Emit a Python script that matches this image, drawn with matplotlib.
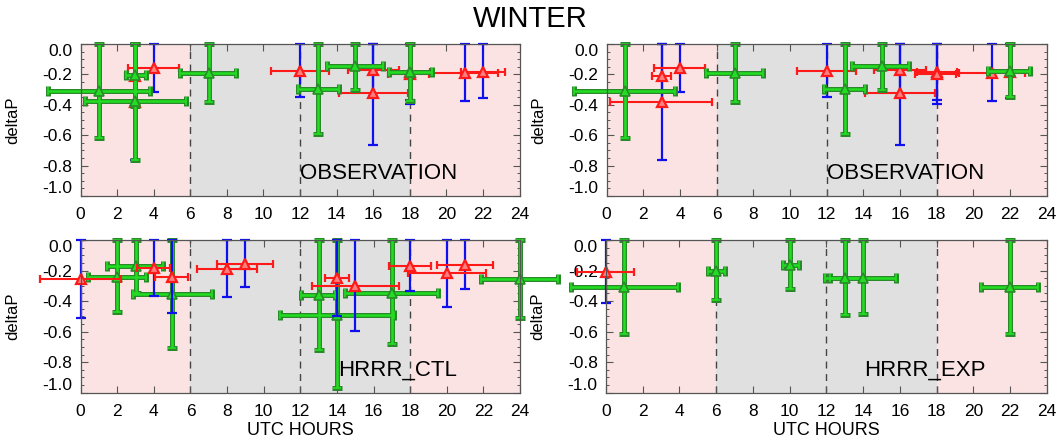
import matplotlib
matplotlib.use("Agg")
import matplotlib.pyplot as plt
from matplotlib.ticker import MultipleLocator
import numpy as np

plt.rcParams["font.family"] = ["Liberation Sans", "DejaVu Sans"]

# ---- OBSERVATION: red points (x spread) with blue y spread ----
obs_red_x = [3, 3, 4, 12, 16, 16, 18, 18, 21, 22]
obs_red_y = [-0.21, -0.38, -0.155, -0.178, -0.17, -0.325, -0.185, -0.195, -0.193, -0.186]
obs_red_xlo = [2.45, 0.2, 2.6, 10.4, 14.6, 14.1, 16.95, 16.8, 19.2, 20.8]
obs_red_xhi = [3.5, 5.75, 5.38, 13.6, 17.4, 17.92, 19.1, 19.05, 22.8, 23.2]
obs_red_ylo = [-0.41, -0.76, -0.318, -0.35, -0.34, -0.664, -0.37, -0.395, -0.375, -0.353]

# OBSERVATION green events, left column
obs_ctl_x = [1, 3, 3, 7, 13, 15, 18]
obs_ctl_y = [-0.307, -0.205, -0.376, -0.189, -0.298, -0.145, -0.186]
obs_ctl_xlo = [-1.78, 2.46, 0.22, 5.44, 11.88, 13.45, 16.88]
obs_ctl_xhi = [3.8, 3.55, 5.77, 8.5, 14.12, 16.55, 19.2]
obs_ctl_ylo = [-0.617, -0.41, -0.76, -0.379, -0.595, -0.303, -0.373]

# OBSERVATION green events, right column
obs_exp_x = [1, 7, 13, 15, 22]
obs_exp_y = [-0.307, -0.189, -0.298, -0.145, -0.175]
obs_exp_xlo = [-1.8, 5.42, 11.85, 13.4, 20.8]
obs_exp_xhi = [3.75, 8.5, 14.1, 16.5, 23.1]
obs_exp_ylo = [-0.617, -0.379, -0.594, -0.303, -0.35]

# ---- HRRR_CTL ----
ctl_red_x = [0, 4, 5, 8, 9, 14, 15, 18, 20, 21]
ctl_red_y = [-0.258, -0.183, -0.242, -0.188, -0.157, -0.252, -0.30, -0.17, -0.218, -0.164]
ctl_red_xlo = [-2.2, 3.1, 4.06, 6.34, 7.45, 13.35, 12.62, 16.86, 17.9, 19.49]
ctl_red_xhi = [2.2, 4.88, 5.88, 9.62, 10.52, 14.66, 17.4, 19.14, 22.15, 22.55]
ctl_red_ylo = [-0.51, -0.367, -0.48, -0.373, -0.308, -0.5, -0.594, -0.334, -0.437, -0.323]

ctl_grn_x = [2, 3, 5, 13, 14, 17, 24]
ctl_grn_y = [-0.24, -0.17, -0.356, -0.362, -0.491, -0.345, -0.258]
ctl_grn_xlo = [0.42, 1.42, 2.84, 12.02, 10.89, 14.44, 21.87]
ctl_grn_xhi = [3.57, 4.51, 7.16, 13.9, 17.14, 19.54, 26.1]
ctl_grn_ylo = [-0.47, -0.345, -0.71, -0.72, -0.967, -0.683, -0.513]

# ---- HRRR_EXP ----
exp_red_x = [0]
exp_red_y = [-0.207]
exp_red_xlo = [-1.6]
exp_red_xhi = [1.54]
exp_red_ylo = [-0.41]

exp_grn_x = [1, 6, 10, 13, 14, 22]
exp_grn_y = [-0.31, -0.203, -0.164, -0.247, -0.247, -0.31]
exp_grn_xlo = [-1.92, 5.57, 9.66, 11.93, 12.2, 20.43]
exp_grn_xhi = [3.9, 6.48, 10.5, 14.0, 15.8, 23.5]
exp_grn_ylo = [-0.618, -0.393, -0.323, -0.491, -0.485, -0.616]

Y_TOP = 0.0  # upper end of every vertical spread

PINK = "#fbe3e3"
GRAY = "#e0e0e0"
RED = "#ff1a1a"
BLUE = "#1010ee"
GREEN = "#22dd22"
DKGREEN = "#2a8a2a"


def xerr_of(x, xlo, xhi):
    x = np.asarray(x, float)
    return np.vstack([x - np.asarray(xlo), np.asarray(xhi) - x])


def yerr_of(y, ylo):
    y = np.asarray(y, float)
    return np.vstack([y - np.asarray(ylo), Y_TOP - y])


def draw_red_blue(ax, x, y, xlo, xhi, ylo, z):
    eb = ax.errorbar(x, y, yerr=yerr_of(y, ylo), fmt="none", ecolor=BLUE,
                     elinewidth=1.6, capsize=3.5, capthick=1.6, zorder=z)
    for a in eb.lines[1] + eb.lines[2]:
        a.set_clip_on(False)
    eb = ax.errorbar(x, y, xerr=xerr_of(x, xlo, xhi), fmt="^", color=RED,
                     ms=7.5, mfc="#ff8080", mec=RED, mew=1.6,
                     elinewidth=1.5, capsize=2.6, capthick=1.5, zorder=z + 0.5)
    for a in [eb.lines[0]] + list(eb.lines[1]) + list(eb.lines[2]):
        a.set_clip_on(False)


def draw_green(ax, x, y, xlo, xhi, ylo, z):
    xe = xerr_of(x, xlo, xhi)
    ye = yerr_of(y, ylo)
    eb = ax.errorbar(x, y, xerr=xe, yerr=ye, fmt="none", ecolor=DKGREEN,
                     elinewidth=3.6, capsize=3.4, capthick=3.6, zorder=z)
    for a in list(eb.lines[1]) + list(eb.lines[2]):
        a.set_clip_on(False)
    eb = ax.errorbar(x, y, xerr=xe, yerr=ye, fmt="^", color=GREEN,
                     ms=7.5, mfc=GREEN, mec=DKGREEN, mew=1.2,
                     elinewidth=1.8, capsize=3.0, capthick=1.8, zorder=z + 0.5)
    for a in [eb.lines[0]] + list(eb.lines[1]) + list(eb.lines[2]):
        a.set_clip_on(False)


fig = plt.figure(figsize=(10.6, 4.43), dpi=100)

positions = [
    [0.0760, 0.5576, 0.4142, 0.3431],
    [0.5723, 0.5576, 0.4152, 0.3431],
    [0.0761, 0.1135, 0.4144, 0.3447],
    [0.5717, 0.1135, 0.4158, 0.3447],
]

panels = [
    ("OBSERVATION", (obs_red_x, obs_red_y, obs_red_xlo, obs_red_xhi, obs_red_ylo),
     (obs_ctl_x, obs_ctl_y, obs_ctl_xlo, obs_ctl_xhi, obs_ctl_ylo), True, 12.0),
    ("OBSERVATION", (obs_red_x, obs_red_y, obs_red_xlo, obs_red_xhi, obs_red_ylo),
     (obs_exp_x, obs_exp_y, obs_exp_xlo, obs_exp_xhi, obs_exp_ylo), True, 12.0),
    ("HRRR_CTL", (ctl_red_x, ctl_red_y, ctl_red_xlo, ctl_red_xhi, ctl_red_ylo),
     (ctl_grn_x, ctl_grn_y, ctl_grn_xlo, ctl_grn_xhi, ctl_grn_ylo), False, 14.05),
    ("HRRR_EXP", (exp_red_x, exp_red_y, exp_red_xlo, exp_red_xhi, exp_red_ylo),
     (exp_grn_x, exp_grn_y, exp_grn_xlo, exp_grn_xhi, exp_grn_ylo), False, 14.05),
]

for i, (name, red, grn, green_on_top, tx) in enumerate(panels):
    ax = fig.add_axes(positions[i])
    ax.set_xlim(0, 24)
    ax.set_ylim(-1.0, 0.0)

    ax.axvspan(0, 6, color=PINK, zorder=0, lw=0)
    ax.axvspan(6, 18, color=GRAY, zorder=0, lw=0)
    ax.axvspan(18, 24, color=PINK, zorder=0, lw=0)
    for xv in (6, 12, 18):
        ax.axvline(xv, color="#444444", lw=1.0, ls=(0, (5, 4)), zorder=0.5)

    if green_on_top:
        draw_red_blue(ax, *red, z=3)
        draw_green(ax, *grn, z=5)
    else:
        draw_green(ax, *grn, z=3)
        draw_red_blue(ax, *red, z=5)

    ax.text(tx, -0.855, name, fontsize=16, ha="left", va="center", zorder=6)

    ax.xaxis.set_major_locator(MultipleLocator(2))
    ax.set_yticks(np.arange(-1.0, 0.01, 0.2))
    ax.set_yticklabels(["-1.0", "-0.8", "-0.6", "-0.4", "-0.2", "0.0"])
    ax.yaxis.set_minor_locator(MultipleLocator(0.05))
    ax.tick_params(which="both", direction="in", top=True, right=True,
                   color="#555555", labelsize=12.5)
    ax.tick_params(which="major", length=5, width=0.8)
    ax.tick_params(which="minor", length=2.5, width=0.7)
    ax.tick_params(axis="y", pad=6)
    ax.tick_params(axis="x", pad=8)
    yt = ax.yaxis.get_major_ticks()
    yt[0].label1.set_va("bottom")
    yt[-1].label1.set_va("top")
    for sp in ax.spines.values():
        sp.set_color("#555555")
        sp.set_linewidth(0.9)
        sp.set_zorder(7)

    ax.set_ylabel("deltaP", fontsize=12)
    ax.yaxis.set_label_coords(-0.137, 0.5)
    if i >= 2:
        ax.set_xlabel("UTC HOURS", fontsize=13)
        ax.xaxis.set_label_coords(0.5, -0.19)

fig.text(0.5, 0.958, "WINTER", fontsize=21, ha="center", va="center")

fig.savefig("out.png", dpi=100)
